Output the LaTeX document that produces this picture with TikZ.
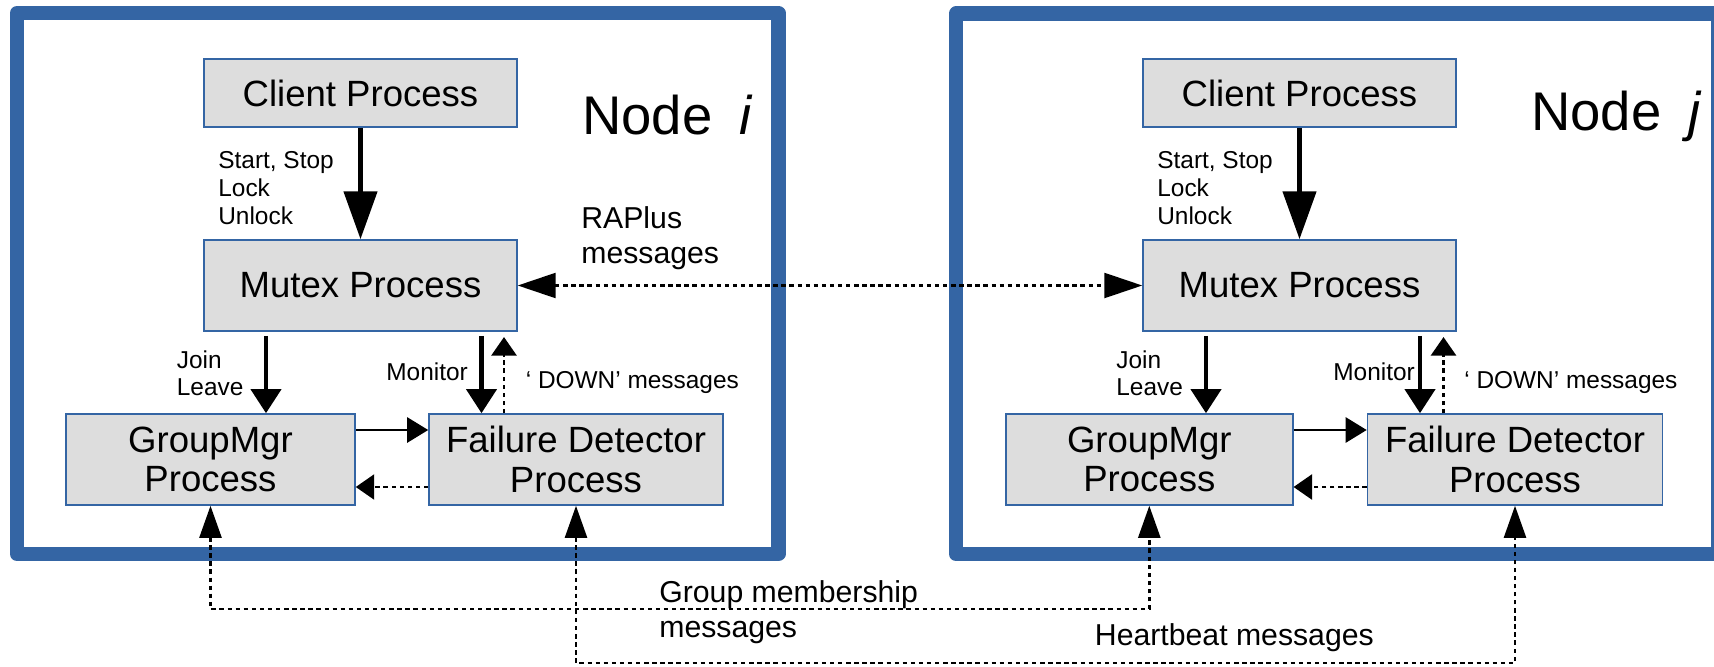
\documentclass[tikz,border=0pt]{standalone}
\usepackage{fontspec}
\setmainfont{Liberation Sans}
\usetikzlibrary{arrows.meta,calc}

\definecolor{frameblue}{RGB}{52,101,164}
\definecolor{procgray}{RGB}{221,221,221}

\tikzset{
  callhead/.tip={Triangle[length=27.3pt,width=18.8pt]},
  ctrlhead/.tip={Triangle[length=13.7pt,width=17pt]},
  linkhead/.tip={Triangle[length=12pt,width=14.2pt]},
  backhead/.tip={Triangle[length=10.5pt,width=14.2pt]},
  netbighead/.tip={Triangle[length=21.6pt,width=14.2pt]},
  nethead/.tip={Triangle[length=18.2pt,width=12.5pt]},
  hostframe/.style={draw=frameblue, line width=8pt, line join=round},
  proc/.style={draw=frameblue, line width=0.9pt, fill=procgray, align=center,
    inner sep=0pt, font=\fontsize{20.8}{22.5}\selectfont},
  hosttitle/.style={anchor=north west, inner sep=0pt, font=\fontsize{31}{36}\selectfont},
  smallnote/.style={anchor=north west, inner sep=0pt, align=left,
    font=\fontsize{13.9}{15.9}\selectfont},
  msgnote/.style={anchor=north west, inner sep=0pt, align=left,
    font=\fontsize{17.2}{19.8}\selectfont},
  callarrow/.style={line width=2.6pt, -callhead},
  ctrlarrow/.style={line width=2.6pt, -ctrlhead, shorten <=2.3pt},
  linkarrow/.style={line width=1.7pt, -linkhead},
  msgline/.style={line width=1.4pt, dash pattern=on 2.5pt off 2.1pt}
}

\begin{document}
\begin{tikzpicture}[x=0.02cm, y=-0.02cm]
  \useasboundingbox (0,0) rectangle (1714,666);
  \clip (0,0) rectangle (1714,666);

  % the two hosts
  \draw[hostframe] (17,13) rectangle (778.5,554);
  \draw[hostframe] (956,13.5) rectangle (1718,554);

  % processes on node i
  \node[proc, minimum width=6.26cm, minimum height=1.36cm] (clienti) at (360.5,93) {Client Process};
  \node[proc, minimum width=6.26cm, minimum height=1.82cm] (mutexi) at (360.5,285.5) {Mutex Process};
  \node[proc, minimum width=5.78cm, minimum height=1.82cm] (groupi) at (210.5,459.5) {GroupMgr\\Process};
  \node[proc, minimum width=5.88cm, minimum height=1.82cm] (faili) at (576,459.5) {Failure Detector\\Process};

  % processes on node j
  \node[proc, minimum width=6.26cm, minimum height=1.36cm] (clientj) at (1299.5,93) {Client Process};
  \node[proc, minimum width=6.26cm, minimum height=1.82cm] (mutexj) at (1299.5,285.5) {Mutex Process};
  \node[proc, minimum width=5.74cm, minimum height=1.82cm] (groupj) at (1149.3,459.5) {GroupMgr\\Process};
  \node[proc, minimum width=5.9cm, minimum height=1.82cm] (failj) at (1515,459.5) {Failure Detector\\Process};

  % titles and labels
  \node[hosttitle] (titlei) at (582,94.6) {Node\hspace{0.5em}\textit{i}};
  \node[hosttitle] (titlej) at (1531,91) {Node\hspace{0.5em}\textit{j}};
  \node[smallnote] (callsi) at (218,151) {Start, Stop\\Lock\\Unlock};
  \node[smallnote] (callsj) at (1157,151) {Start, Stop\\Lock\\Unlock};
  \node[smallnote] (joinlbli) at (176.5,350) {Join\\Leave};
  \node[smallnote] (joinlblj) at (1116,350) {Join\\Leave};
  \node[smallnote] (monlbli) at (386,362.5) {Monitor};
  \node[smallnote] (monlblj) at (1333,362.5) {Monitor};
  \node[smallnote] (downlbli) at (525.5,371.4) {‘ DOWN’ messages};
  \node[smallnote] (downlblj) at (1464,371.4) {‘ DOWN’ messages};
  \node[msgnote] (raplbl) at (581,206.4) {RAPlus\\messages};
  \node[msgnote] (gmlbl) at (659,580) {Group membership\\messages};
  \node[msgnote] (hblbl) at (1094.6,623.3) {Heartbeat messages};

  % inside node i
  \draw[callarrow] (clienti) -- (mutexi);
  \coordinate (joini) at ($(mutexi.south)+(-94.5,0)$);
  \draw[ctrlarrow] (joini) -- (joini |- groupi.north);
  \coordinate (moni) at ($(mutexi.south)+(121,0)$);
  \draw[ctrlarrow] (moni) -- (moni |- faili.north);
  \coordinate (downi) at ($(faili.north)+(-72,0)$);
  \draw[msgline, -backhead, shorten >=3pt] (downi) -- (downi |- mutexi.south);
  \coordinate (gfi) at ($(groupi.east)+(0,-29.5)$);
  \draw[linkarrow] (gfi) -- (gfi -| faili.west);
  \coordinate (fgi) at ($(faili.west)+(0,27.5)$);
  \draw[msgline, -backhead] (fgi) -- (fgi -| groupi.east);

  % inside node j
  \draw[callarrow] (clientj) -- (mutexj);
  \coordinate (joinj) at ($(mutexj.south)+(-93.5,0)$);
  \draw[ctrlarrow] (joinj) -- (joinj |- groupj.north);
  \coordinate (monj) at ($(mutexj.south)+(120.5,0)$);
  \draw[ctrlarrow] (monj) -- (monj |- failj.north);
  \coordinate (downj) at ($(failj.north)+(-71.5,0)$);
  \draw[msgline, -backhead, shorten >=3pt] (downj) -- (downj |- mutexj.south);
  \coordinate (gfj) at ($(groupj.east)+(0,-29.5)$);
  \draw[linkarrow] (gfj) -- (gfj -| failj.west);
  \coordinate (fgj) at ($(failj.west)+(0,27.5)$);
  \draw[msgline, -backhead] (fgj) -- (fgj -| groupj.east);

  % messages between the hosts
  \draw[msgline, netbighead-netbighead] (mutexi) -- (mutexj);
  \coordinate (gmbus) at (0,609);
  \coordinate (hbbus) at (0,663);
  \draw[msgline, nethead-nethead] (groupi.south) -- (groupi.south |- gmbus) -| (groupj.south);
  \draw[msgline, nethead-nethead] (faili.south) -- (faili.south |- hbbus) -| (failj.south);
\end{tikzpicture}
\end{document}
